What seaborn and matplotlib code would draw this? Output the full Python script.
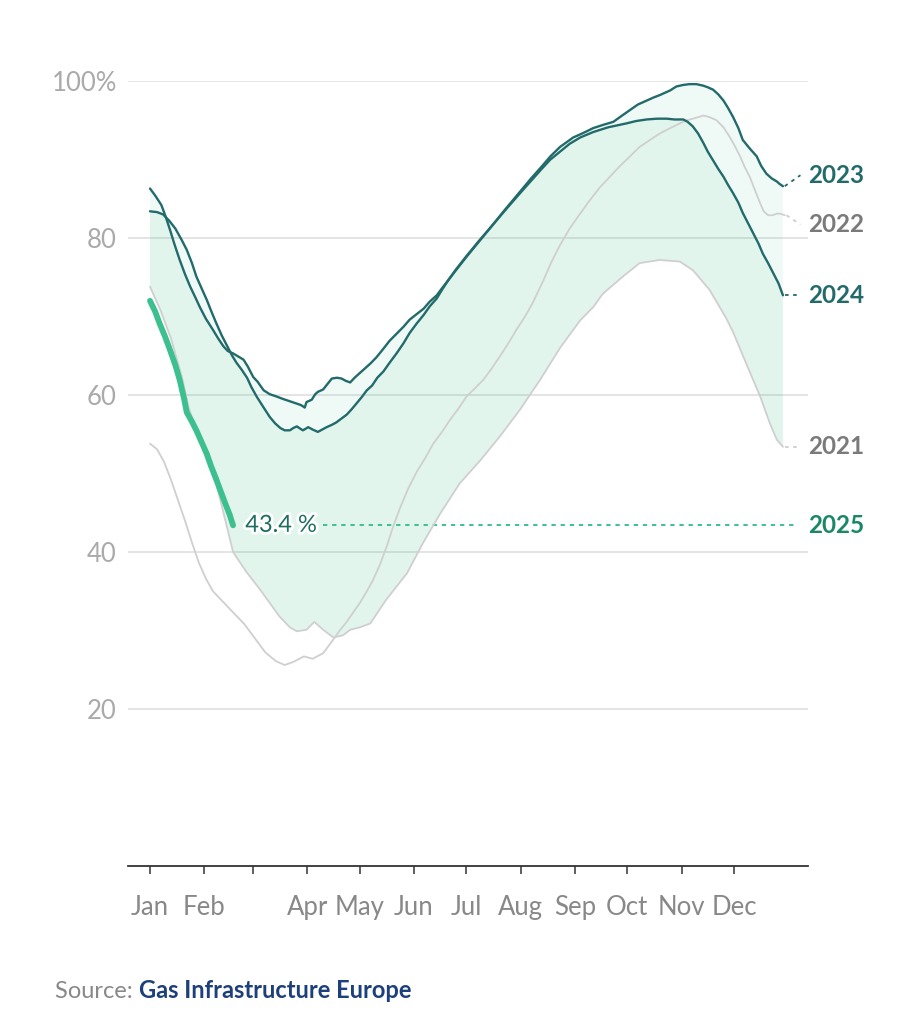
import numpy as np
import pandas as pd
import matplotlib.pyplot as plt
import matplotlib.patheffects as pe
import seaborn as sns

# EU gas storage filling level (%), x = day of year (0 = 1 Jan)
days_2021 = [0, 6, 12, 18, 22, 26, 32, 38, 40, 44, 47.5, 55, 63, 68.5, 74, 80, 84, 89.5, 94, 99,
             105, 110.5, 114.5, 120, 126, 135, 147, 156, 166, 177, 189, 200, 211.5, 223, 234.5,
             246, 253.5, 259, 270.5, 280, 291.5, 303, 310.5, 320, 329.5, 333.5, 341, 349, 354.5,
             358.5, 362]
level_2021 = [73.8, 70.8, 67.2, 62.5, 58.5, 55.7, 52.0, 48.5, 46.8, 43.2, 40.0, 37.5, 35.2, 33.5,
              31.8, 30.4, 29.9, 30.1, 31.1, 30.1, 29.1, 29.4, 30.1, 30.4, 30.9, 33.9, 37.3, 41.1,
              44.9, 48.7, 51.7, 54.7, 58.1, 61.9, 66.0, 69.5, 71.2, 72.9, 75.1, 76.8, 77.2, 77.0,
              75.9, 73.4, 69.8, 68.0, 64.0, 59.8, 56.4, 54.3, 53.4]

days_2022 = [0, 4, 8, 12, 16, 20, 24, 28, 32, 36, 42, 48, 54, 60, 66, 72, 77, 82, 88, 93, 99,
             105, 108.5, 112.5, 116.5, 120, 124, 127.5, 131.5, 135.5, 139, 143, 147.5, 152.5,
             157.5, 162, 167, 171.5, 176.5, 181, 186, 190.5, 195.5, 200, 205, 209.5, 214.5,
             219, 225, 229.5, 234.5, 240, 246, 251.5, 257.5, 263, 268.5, 274.5, 280, 286,
             291.5, 297.5, 303, 307, 310.5, 313.5, 316.5, 320, 324, 328, 331.5, 334.5, 337.5,
             340, 343, 346, 349, 351, 353.5, 356, 358.5, 360.5, 363]
level_2022 = [53.8, 53.1, 51.5, 49.2, 46.6, 44.0, 41.2, 38.6, 36.6, 35.0, 33.6, 32.2, 30.8, 29.0,
              27.2, 26.1, 25.6, 26.0, 26.7, 26.4, 27.1, 28.9, 30.0, 31.1, 32.4, 33.5, 35.0, 36.4,
              38.4, 40.8, 43.2, 45.6, 48.0, 50.2, 52.0, 53.8, 55.3, 56.8, 58.3, 59.8, 60.9, 61.9,
              63.4, 64.9, 66.6, 68.3, 70.0, 71.8, 74.6, 76.9, 79.1, 81.2, 83.1, 84.8, 86.5, 87.8,
              89.1, 90.4, 91.6, 92.5, 93.3, 94.0, 94.6, 95.0, 95.2, 95.4, 95.6, 95.4, 95.0, 94.1,
              92.9, 91.7, 90.4, 89.1, 87.8, 86.1, 84.4, 83.4, 82.9, 82.9, 83.1, 83.1, 82.9]

days_2023 = [0, 4, 7.5, 11, 14.5, 18, 21, 24, 26.5, 29.5, 32.5, 35, 38, 41, 44, 47, 49.5, 52.5,
             55.5, 58, 61, 65, 68.5, 71.5, 74.5, 77, 80, 82, 84, 86, 87.5, 90.5, 93, 96, 98.5,
             101, 104, 106.5, 109.5, 112.5, 115, 118, 121, 124, 127, 130, 133.5, 137, 141, 145,
             148.5, 152.5, 156.5, 160, 164, 167, 170.5, 175, 181, 188, 195, 203, 212, 218, 224,
             229, 234.5, 242, 248, 253.5, 259, 265, 270, 274.5, 279, 284, 288, 291.5, 297.5, 301,
             305, 308.5, 312.5, 316.5, 319, 322, 325, 328, 330.5, 333.5, 336.5, 339, 343, 347,
             349.5, 352.5, 355.5, 358.5, 360, 362]
level_2023 = [83.4, 83.3, 83.0, 82.2, 81.2, 79.8, 78.5, 76.8, 75.1, 73.6, 72.1, 70.7, 69.1, 67.6,
              66.3, 65.0, 64.1, 63.2, 62.2, 61.0, 59.8, 58.4, 57.2, 56.4, 55.8, 55.5, 55.5, 55.8,
              56.0, 55.7, 55.5, 55.9, 55.6, 55.3, 55.6, 55.9, 56.2, 56.5, 57.0, 57.5, 58.1, 58.9,
              59.7, 60.6, 61.2, 62.2, 63.0, 64.1, 65.3, 66.6, 67.9, 69.1, 70.2, 71.3, 72.3, 73.4,
              74.6, 75.9, 77.6, 79.5, 81.4, 83.6, 86.0, 87.6, 89.1, 90.4, 91.6, 92.8, 93.4, 94.0,
              94.4, 94.8, 95.6, 96.3, 97.0, 97.5, 97.9, 98.2, 98.8, 99.3, 99.5, 99.6, 99.6, 99.4,
              99.2, 98.9, 98.3, 97.5, 96.6, 95.4, 94.0, 92.5, 91.4, 90.4, 89.2, 88.2, 87.6, 87.2,
              86.9, 86.6]

days_2024 = [0, 3, 6.5, 9, 11.5, 14, 17, 20, 23, 26, 28.5, 32, 36, 39, 42, 44.5, 47.5, 50.5, 53.5,
             56, 59, 61.5, 65, 68.5, 72.5, 76, 80, 84, 86.5, 88.5, 89.5, 92.5, 94.5, 96, 99,
             101.5, 104, 107, 109.5, 112, 114.5, 117, 120, 123, 126, 129.5, 133.5, 137, 141, 145,
             148.5, 152.5, 156.5, 160, 164, 167, 170.5, 175, 181, 188, 195, 203, 212, 218, 224,
             229, 234.5, 240, 246, 253.5, 262, 272.5, 278, 284, 290, 295.5, 300, 305, 307.5,
             310.5, 313.5, 316.5, 319, 322, 325, 328, 330.5, 333.5, 336.5, 339, 342, 345, 348,
             350.5, 353.5, 356.5, 359.5, 362]
level_2024 = [86.3, 85.4, 84.2, 82.7, 81.0, 79.2, 77.2, 75.4, 73.8, 72.4, 71.2, 69.7, 68.3, 67.2,
              66.2, 65.6, 65.3, 64.9, 64.5, 63.6, 62.3, 61.7, 60.6, 60.1, 59.8, 59.5, 59.2, 58.9,
              58.7, 58.4, 59.1, 59.4, 60.1, 60.4, 60.7, 61.4, 62.1, 62.2, 62.1, 61.8, 61.6, 62.2,
              62.8, 63.4, 64.0, 64.8, 65.9, 66.9, 67.8, 68.7, 69.6, 70.3, 71.0, 71.9, 72.7, 73.6,
              74.6, 76.0, 77.7, 79.6, 81.4, 83.5, 85.8, 87.3, 88.8, 90.0, 91.0, 92.0, 92.8, 93.5,
              94.1, 94.6, 94.9, 95.1, 95.2, 95.2, 95.1, 95.1, 94.8, 94.2, 93.3, 92.1, 91.0, 89.9,
              88.8, 87.8, 86.8, 85.7, 84.5, 83.2, 81.9, 80.6, 79.3, 78.0, 76.8, 75.5, 74.2, 72.7]

days_2025 = [0, 3, 5.5, 8.5, 11.5, 14.5, 17, 19.5, 21, 24, 26.5, 29.5, 32.5, 35, 38, 40.5, 43,
             45.5, 47.5]
level_2025 = [72.0, 70.6, 69.1, 67.5, 65.7, 63.8, 61.9, 59.5, 57.8, 56.6, 55.5, 54.0, 52.5, 50.9,
              49.2, 47.7, 46.2, 44.8, 43.4]

latest_label = "43.4 %"
month_starts = [0, 31, 59, 90, 120, 151, 181, 212, 243, 273, 304, 334]
month_labels = ["Jan", "Feb", "", "Apr", "May", "Jun", "Jul", "Aug", "Sep", "Oct", "Nov", "Dec"]
y_ticks = [20, 40, 60, 80, 100]
y_labels = ["20", "40", "60", "80", "100%"]

series = {
    "2021": (days_2021, level_2021),
    "2022": (days_2022, level_2022),
    "2023": (days_2023, level_2023),
    "2024": (days_2024, level_2024),
    "2025": (days_2025, level_2025),
}
df = pd.concat([pd.DataFrame({"year": y, "day": d, "level": v}) for y, (d, v) in series.items()],
               ignore_index=True)

TEAL = "#236b6b"
GREY = "#cfcfcf"
GREEN = "#3dc08f"
styles = {
    "2021": dict(color=GREY, lw=1.3, z=3, label_color="#7a7a7a"),
    "2022": dict(color=GREY, lw=1.3, z=3, label_color="#7a7a7a"),
    "2023": dict(color=TEAL, lw=1.7, z=4, label_color=TEAL),
    "2024": dict(color=TEAL, lw=1.7, z=4, label_color=TEAL),
    "2025": dict(color=GREEN, lw=4.2, z=5, label_color="#1a8767"),
}

sns.set_theme(style="white")
plt.rcParams["font.family"] = ["Lato", "DejaVu Sans"]

fig = plt.figure(figsize=(9.15, 10.24), dpi=100)
ax = fig.add_axes([128 / 915, 158 / 1024, 680 / 915, 785 / 1024])
px = 334 / 584.0  # days per pixel
ax.set_xlim(-22 * px, 658 * px)
ax.set_ylim(0, 100)

# range band: two overlapping translucent fills (2021 -> 2023, 2021 -> 2024)
for top in ["2023", "2024"]:
    d_top, v_top = series[top]
    xs = np.r_[d_top, days_2021[::-1]]
    ys = np.r_[v_top, level_2021[::-1]]
    ax.fill(xs, ys, color=GREEN, alpha=0.08, lw=0, zorder=1)

for y in ["2021", "2022", "2023", "2024", "2025"]:
    s = styles[y]
    sns.lineplot(data=df[df.year == y], x="day", y="level", ax=ax, color=s["color"],
                 linewidth=s["lw"], estimator=None, sort=False, legend=False,
                 zorder=s["z"], solid_capstyle="round")

# end labels with short dotted connectors
label_x = 376.5
nudge = {"2021": 0, "2022": -1.2, "2023": 1.4, "2024": 0}
for y in ["2021", "2022", "2023", "2024"]:
    d, v = series[y]
    s = styles[y]
    ly = v[-1] + nudge[y]
    ax.plot([d[-1] + 1, label_x - 4.5], [v[-1], ly], color=s["color"], lw=1.3,
            ls=(0, (2, 2.5)), clip_on=False, zorder=s["z"])
    ax.text(label_x, ly, y, color=s["label_color"], fontsize=17.5, fontweight="bold",
            va="center", ha="left", clip_on=False)

# latest 2025 value
last_day, last_val = days_2025[-1], level_2025[-1]
ax.text(last_day + 7, last_val, latest_label, color="#1f6e5f", fontsize=17, va="center",
        ha="left", zorder=6,
        path_effects=[pe.withStroke(linewidth=4, foreground="white")])
ax.plot([99, 369], [last_val, last_val], color=GREEN, lw=1.4, ls=(0, (2.2, 2.5)),
        clip_on=False, zorder=2)
ax.text(label_x, last_val, "2025", color=styles["2025"]["label_color"], fontsize=17.5,
        fontweight="bold", va="center", ha="left", clip_on=False)

# axes styling
ax.set_yticks(y_ticks)
ax.set_yticklabels(y_labels)
ax.set_xticks(month_starts)
ax.set_xticklabels(month_labels)
ax.set_xlabel("")
ax.set_ylabel("")
ax.yaxis.grid(True, color="#e4e4e4", lw=1.4, zorder=0)
ax.xaxis.grid(False)
ax.set_axisbelow(True)
ax.tick_params(axis="y", length=0, pad=8, labelcolor="#aaaaaa", labelsize=18.5)
ax.tick_params(axis="x", direction="out", length=6, width=1.1, color="#333333", pad=15,
               labelcolor="#888888", labelsize=18.5, bottom=True)
for side in ["left", "right", "top"]:
    ax.spines[side].set_visible(False)
ax.spines["bottom"].set_color("#333333")
ax.spines["bottom"].set_linewidth(1.3)

src = fig.text(55 / 915, 1 - 991 / 1024, "Source: ", color="#888888", fontsize=17, va="center")
fig.canvas.draw()
bb = src.get_window_extent().transformed(fig.transFigure.inverted())
fig.text(bb.x1, 1 - 991 / 1024, "Gas Infrastructure Europe", color="#1d3f7a", fontsize=17,
         fontweight="bold", va="center")

fig.savefig("out.png", dpi=100, facecolor="white")
